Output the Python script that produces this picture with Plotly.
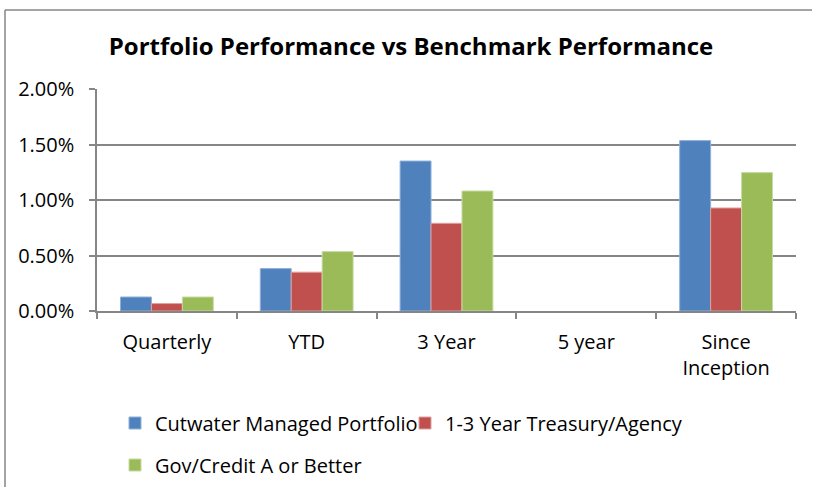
import plotly.graph_objects as go

# categories and series (values as fractions, shown as %)
categories = ["Quarterly", "YTD", "3 Year", "5 year", "Since<br>Inception"]
cutwater = [0.00126, 0.00382, 0.01351, None, 0.01535]
treasury = [0.00067, 0.00350, 0.00790, None, 0.00928]
govcredit = [0.00126, 0.00535, 0.01081, None, 0.01247]

series_names = ["Cutwater Managed Portfolio", "1-3 Year Treasury/Agency", "Gov/Credit A or Better"]
colors = ["#4F81BD", "#C0504D", "#9BBB59"]
edge_colors = ["#8FB0DA", "#E0A09E", "#C6DBA0"]

FONT = "Open Sans"
fig = go.Figure()

for i, (name, vals) in enumerate(zip(series_names, [cutwater, treasury, govcredit])):
    fig.add_trace(go.Bar(
        x=categories,
        y=vals,
        name=name,
        showlegend=True,
        marker=dict(color=colors[i], line=dict(color=edge_colors[i], width=1)),
        legend=["legend", "legend2", "legend3"][i],
    ))

# plot area in pixels: x 97..796, y 89..311
L, R, T, B = 97, 17, 89, 176
W, H = 813, 487
pw, ph = W - L - R, H - T - B


def px(x):
    return (x - L) / pw


def py(y):
    return (H - B - y) / ph


legend_common = dict(orientation="h", xanchor="left", yanchor="middle",
                     xref="container", yref="container",
                     font=dict(family=FONT, size=20, color="#000000"),
                     bgcolor="rgba(0,0,0,0)", itemwidth=30, visible=True)

fig.update_layout(
    width=W, height=H,
    margin=dict(l=L, r=R, t=T, b=B, autoexpand=False),
    paper_bgcolor="white",
    plot_bgcolor="white",
    showlegend=True,
    barmode="group",
    bargap=0.336,
    bargroupgap=0,
    title=dict(text="<b>Portfolio Performance vs Benchmark Performance</b>",
               x=411 / W, xref="container", xanchor="center",
               y=1 - 47 / H, yref="container", yanchor="middle",
               font=dict(family=FONT, size=24, color="#000000")),
    xaxis=dict(
        showgrid=False, showline=True, linecolor="#868686", linewidth=1.5,
        ticks="outside", tickson="boundaries", ticklen=6, tickcolor="#868686", tickwidth=1.5,
        tickfont=dict(family=FONT, size=20, color="#000000"),
        ticklabelstandoff=12,
    ),
    yaxis=dict(
        range=[0, 0.02], dtick=0.005, tickformat=".2%",
        showgrid=True, gridcolor="#868686", gridwidth=1.5,
        showline=True, linecolor="#868686", linewidth=1.5,
        ticks="outside", ticklen=6, tickcolor="#868686", tickwidth=1.5,
        tickfont=dict(family=FONT, size=20, color="#000000"),
        ticklabelstandoff=11,
        zeroline=False,
    ),
    legend=dict(legend_common, x=115 / W, y=1 - 423 / H),
    legend2=dict(legend_common, x=405 / W, y=1 - 423 / H),
    legend3=dict(legend_common, x=115 / W, y=1 - 465 / H),
    shapes=[
        # chart frame (left and top edges)
        dict(type="line", xref="paper", yref="paper", x0=px(5), x1=px(5), y0=py(10), y1=py(490),
             line=dict(color="#868686", width=1.5)),
        dict(type="line", xref="paper", yref="paper", x0=px(5), x1=px(812), y0=py(10), y1=py(10),
             line=dict(color="#868686", width=1.5)),
    ],
)

fig.write_html("out.html", config={"displayModeBar": False},
               post_script="document.body.style.margin='0px';")
